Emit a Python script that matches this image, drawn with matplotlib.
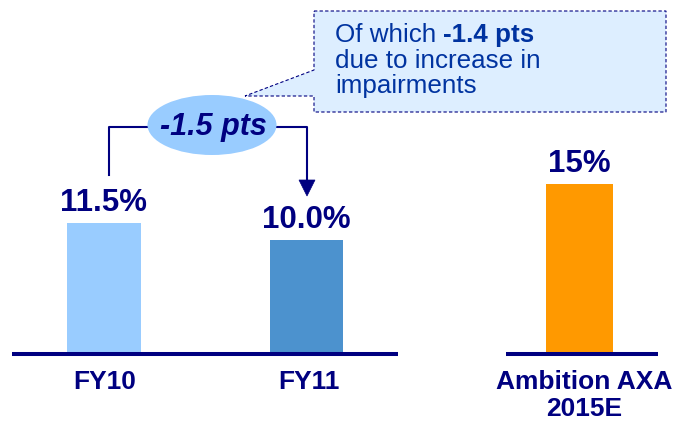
import matplotlib
matplotlib.use("Agg")
import matplotlib.pyplot as plt
from matplotlib.patches import Ellipse, Polygon

plt.rcParams["font.family"] = ["Liberation Sans", "DejaVu Sans"]

# ROE figures
categories = [["FY10"], ["FY11"], ["Ambition AXA", "2015E"]]
values = [11.5, 10.0, 15.0]
value_labels = ["11.5%", "10.0%", "15%"]
change_label = "-1.5 pts"
note_plain = ["Of which ", "due to increase in", "impairments"]
note_bold = "-1.4 pts"

NAVY = "#000080"
NOTE_BLUE = "#0033A0"
bar_colors = ["#99CCFF", "#4C92CE", "#FF9900"]
bar_x = [104, 306.5, 579.5]
bar_w = [74, 73, 67]

W, H = 680, 425
PX_PER_UNIT = 11.2
BASE_PX = 352  # baseline, pixels from top

fig = plt.figure(figsize=(W / 100, H / 100), dpi=100)
ax = fig.add_axes([0, 0, 1, 1])
ax.set_xlim(0, W)
ax.set_ylim(-(H - BASE_PX) / PX_PER_UNIT, BASE_PX / PX_PER_UNIT)
ax.axis("off")

# overlay in pixel coordinates (origin top-left) for the decorations
ov = fig.add_axes([0, 0, 1, 1], facecolor="none")
ov.set_xlim(0, W)
ov.set_ylim(H, 0)
ov.axis("off")

bars = ax.bar(bar_x, values, width=bar_w, color=bar_colors, zorder=2)
for b, lab in zip(bars, value_labels):
    ax.annotate(lab, (b.get_x() + b.get_width() / 2, b.get_height()),
                xytext=(0, 12), textcoords="offset pixels",
                ha="center", va="baseline", fontsize=22.5,
                fontweight="bold", color=NAVY)

# baselines
ov.plot([12, 398], [354, 354], color=NAVY, lw=2.9, solid_capstyle="butt")
ov.plot([506, 658], [354, 354], color=NAVY, lw=2.9, solid_capstyle="butt")

# category labels, one text per line
label_x = [105, 309, 584]
for x, lines in zip(label_x, categories):
    for i, line in enumerate(lines):
        ov.text(x, 389 + 27 * i, line, ha="center", va="baseline",
                fontsize=19, fontweight="bold", color=NAVY)

# change bracket with arrow
ov.plot([109, 109, 150], [175, 127, 127], color=NAVY, lw=1.5)
ov.plot([275, 307, 307], [127, 127, 182], color=NAVY, lw=1.5)
ov.add_patch(Polygon([(299, 180), (315, 180), (307, 196)], closed=True,
                     facecolor=NAVY, edgecolor=NAVY, lw=0.5))
ov.add_patch(Ellipse((212, 125), 129, 60, facecolor="#99CCFF",
                     edgecolor="none", zorder=3))
ov.text(213, 135, change_label, ha="center", va="baseline", fontsize=22,
        fontweight="bold", fontstyle="italic", color=NAVY, zorder=4)

# callout box
callout = [(314, 11), (666, 11), (666, 112), (314, 112), (314, 96),
           (245, 96), (314, 70)]
ov.add_patch(Polygon(callout, closed=True, facecolor="#DDEEFF",
                     edgecolor=NAVY, lw=0.8, linestyle=(0, (3, 2)), zorder=2))
ov.text(335, 42, note_plain[0], ha="left", va="baseline", fontsize=18.7,
        color=NOTE_BLUE, zorder=4)
ov.text(443, 42, note_bold, ha="left", va="baseline", fontsize=18.7,
        fontweight="bold", color=NOTE_BLUE, zorder=4)
ov.text(335, 68, note_plain[1], ha="left", va="baseline", fontsize=18.7,
        color=NOTE_BLUE, zorder=4)
ov.text(335, 93, note_plain[2], ha="left", va="baseline", fontsize=18.7,
        color=NOTE_BLUE, zorder=4)

fig.savefig("out.png", dpi=100, facecolor="white")
